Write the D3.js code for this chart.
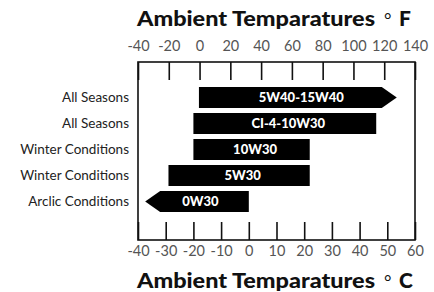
<!DOCTYPE html>
<html>
<head>
<meta charset="utf-8">
<script src="https://cdn.jsdelivr.net/npm/d3@7"></script>
<style>
  body { margin: 0; background: #fff; }
  svg { display: block; }
  text { font-family: Lato, "Open Sans", sans-serif; }
</style>
</head>
<body>
<div id="chart"></div>
<script>
// data: oil grades and their temperature ranges (°C)
const categories = ['All Seasons', 'All Seasons', 'Winter Conditions', 'Winter Conditions', 'Arclic Conditions'];
const grades = ['5W40-15W40', 'CI-4-10W30', '10W30', '5W30', '0W30'];
const lowC = [-18, -20, -20, -29, -32];
const highC = [48, 46, 22, 22, 0];
const arrows = ['right', 'none', 'none', 'none', 'left'];
const ticksF = [-40, -20, 0, 20, 40, 60, 80, 100, 120, 140];
const ticksC = [-40, -30, -20, -10, 0, 10, 20, 30, 40, 50, 60];

const W = 434, H = 292;
const box = { left: 138, right: 415, top: 62, bottom: 240 };
const head = 15;

const svg = d3.select('#chart').append('svg')
    .attr('width', W)
    .attr('height', H);

const xC = d3.scaleLinear().domain([-40, 60]).range([box.left, box.right]);
const xF = d3.scaleLinear().domain([-40, 140]).range([box.left, box.right]);

const y = d3.scaleBand()
    .domain(d3.range(grades.length))
    .range([84.5, 214.5])
    .paddingInner(0.19)
    .paddingOuter(0.095);

// frame
svg.append('rect')
    .attr('x', box.left)
    .attr('y', box.top)
    .attr('width', box.right - box.left)
    .attr('height', box.bottom - box.top)
    .attr('fill', 'none')
    .attr('stroke', '#111')
    .attr('stroke-width', 1.6);

// top axis (F)
const topAx = svg.append('g')
    .attr('transform', `translate(0,${box.top})`)
    .call(d3.axisTop(xF).tickValues(ticksF).tickSize(-18).tickPadding(11).tickFormat(d3.format('d')));

// bottom axis (C)
const botAx = svg.append('g')
    .attr('transform', `translate(0,${box.bottom})`)
    .call(d3.axisBottom(xC).tickValues(ticksC).tickSize(-18).tickPadding(6).tickFormat(d3.format('d')));

[topAx, botAx].forEach(g => {
    g.select('.domain').remove();
    g.selectAll('.tick line').attr('stroke', '#111').attr('stroke-width', 1.6);
    g.selectAll('.tick text')
        .attr('fill', '#555')
        .style('font-size', '14.5px')
        .style('font-family', 'Lato, sans-serif')
        .text(d => d < 0 ? '-' + Math.abs(d) : d);
});

// bars
const idx = d3.range(grades.length);
const barPath = i => {
    const x0 = xC(lowC[i]), x1 = xC(highC[i]);
    const y0 = y(i), y1 = y(i) + y.bandwidth(), ym = (y0 + y1) / 2;
    if (arrows[i] === 'right')
        return `M${x0},${y0}H${x1}L${x1 + head},${ym}L${x1},${y1}H${x0}Z`;
    if (arrows[i] === 'left')
        return `M${x1},${y0}H${x0}L${x0 - head},${ym}L${x0},${y1}H${x1}Z`;
    return `M${x0},${y0}H${x1}V${y1}H${x0}Z`;
};

svg.selectAll('.bar')
    .data(idx)
    .enter()
    .append('path')
    .attr('class', 'bar')
    .attr('d', barPath)
    .attr('fill', '#000');

svg.selectAll('.grade')
    .data(idx)
    .enter()
    .append('text')
    .attr('class', 'grade')
    .attr('x', i => {
        let a = xC(lowC[i]), b = xC(highC[i]);
        if (arrows[i] === 'right') b += head;
        if (arrows[i] === 'left') a -= head;
        return (a + b) / 2 + 3.5;
    })
    .attr('y', i => y(i) + y.bandwidth() / 2)
    .attr('dy', '0.36em')
    .attr('text-anchor', 'middle')
    .attr('fill', '#fff')
    .style('font-size', '13px')
    .style('font-weight', 900)
    .text(i => grades[i]);

// row labels
svg.selectAll('.cat')
    .data(idx)
    .enter()
    .append('text')
    .attr('class', 'cat')
    .attr('x', 129)
    .attr('y', i => y(i) + y.bandwidth() / 2)
    .attr('dy', '0.36em')
    .attr('text-anchor', 'end')
    .attr('fill', '#222')
    .style('font-size', '13.5px')
    .text(i => categories[i]);

// titles
function title(yy, unit) {
    const t = svg.append('text')
        .attr('y', yy)
        .attr('fill', '#111')
        .style('font-size', '21px')
        .style('font-weight', 900);
    t.append('tspan')
        .attr('x', 137)
        .attr('textLength', 238)
        .attr('lengthAdjust', 'spacingAndGlyphs')
        .text('Ambient Temparatures');
    t.append('tspan').attr('x', 384).style('font-weight', 400).style('font-size', '18px').text('\u00b0');
    t.append('tspan').attr('x', 399).text(unit);
}
title(26, 'F');
title(288, 'C');
</script>
</body>
</html>
